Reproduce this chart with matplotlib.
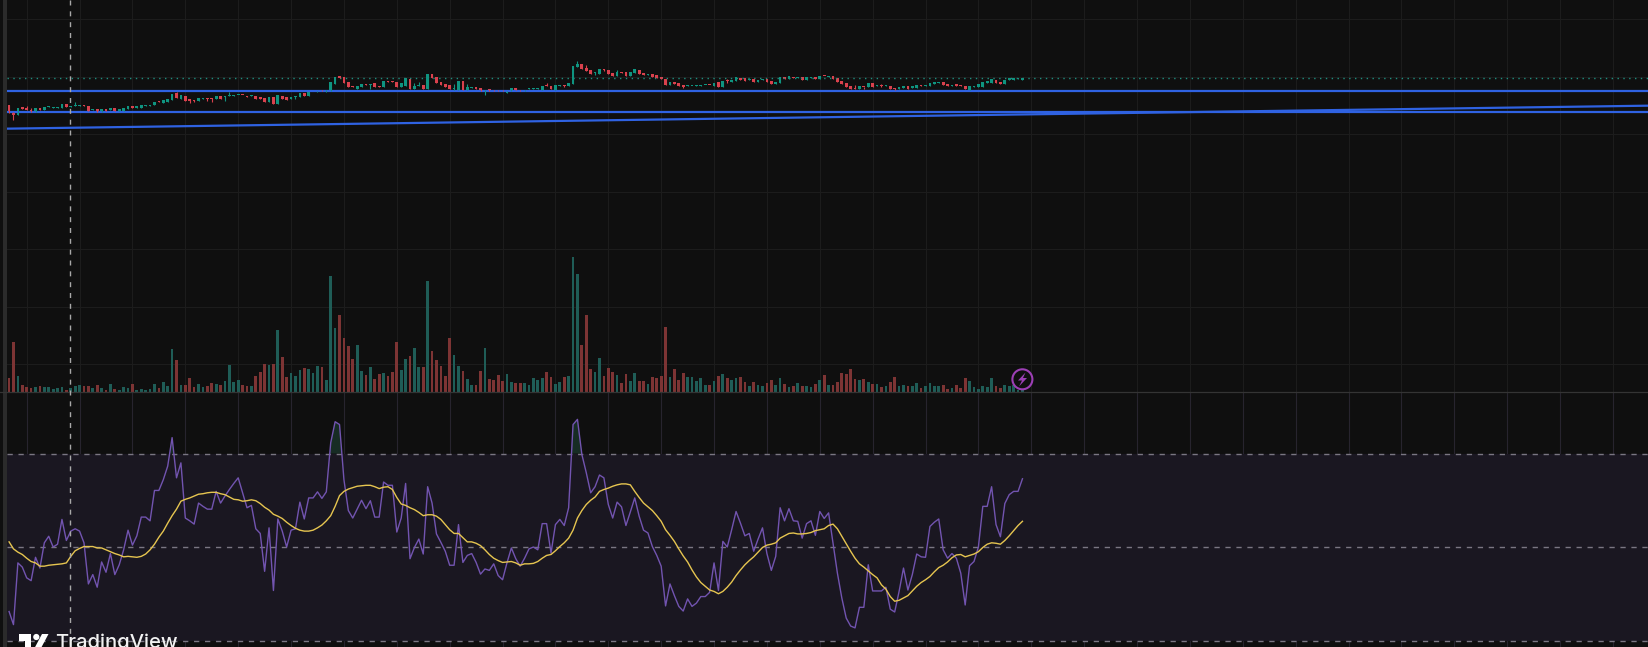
#candles, volume and rsi panes
import numpy as np
import matplotlib
matplotlib.use("Agg")
import matplotlib.pyplot as plt
from matplotlib.patches import Circle,Polygon,Rectangle

W,H=1649,647
BG='#0f0f0f'

# 1 per bar, G up R down
dirs=("RRGRRRGRGG"+"GGGRGGGRRG"+"RGRGRGGGRG"+"GGGGRGGGRG"+"RRRGGRRGRG"+"GGGRRGRRRG"+"RGRRGGGRGG"+"GRGGGRRRRG"
      +"GRGRRGRRRG"+"GRGGRGRRRR"+"RGGRGGRRGR"+"RRRGGRRGGG"+"GGRRGGRGGG"+"RRRGGRRRGR"+"RGGRRGRRRR"+"GRRRGGGGGR"
      +"GRGRGGRRGR"+"GGRRGGRGRG"+"RGGRGRGRRR"+"RRRGRGRGRG"+"RRGGRGGRGG"+"GGRRGRRRGG"+"GGGGRRGGGGG")
body_high=[135,114,125,128,125,120,126,127,130,132,128,129,137,137,132,134,134,134,132,122,
           122,124,124,125,125,122,125,133,133,132,136,135,135,145,147,151,153,168,170,165,
           163,153,149,157,155,155,155,161,162,161,163,164,166,165,161,164,163,158,157,158,
           160,165,163,160,160,162,170,172,174,175,177,179,179,203,219,221,218,204,193,191,
           197,199,197,200,192,206,208,208,205,202,217,213,192,195,195,229,228,220,203,199,
           194,186,206,206,189,190,188,185,180,182,181,181,180,178,185,187,179,179,185,185,
           185,192,194,193,195,196,195,201,252,259,258,247,240,234,243,242,241,232,235,234,
           234,234,242,240,232,228,228,225,220,213,204,205,201,195,195,193,194,194,195,195,
           202,203,207,208,210,218,216,216,214,213,210,214,213,208,205,218,219,222,219,219,
           219,218,218,220,222,223,222,222,215,207,201,192,186,193,190,201,201,194,195,194,
           192,185,189,193,192,191,195,195,195,202,203,205,203,199,195,197,195,192,191,193,
           197,204,206,213,210,203,210,215,215,215,216]
body_low=[112,105,105,124,120,114,114,120,120,128,126,126,125,129,128,131,132,131,116,119,
          115,114,118,121,117,116,118,123,126,127,126,132,133,136,143,142,145,150,155,152,
          147,146,147,148,153,152,153,153,154,158,161,162,164,164,160,161,153,154,145,145,
          139,138,152,149,153,160,158,163,163,173,174,176,174,177,198,217,200,190,190,182,
          188,196,195,189,190,190,205,205,189,190,193,183,182,191,183,183,215,202,196,190,
          182,184,180,180,180,187,183,176,177,178,178,177,177,170,177,179,177,178,184,184,
          183,179,191,182,179,193,193,192,198,249,243,237,228,230,229,240,228,222,222,232,
          222,222,232,228,225,225,220,216,213,195,195,198,193,190,191,191,192,193,194,194,
          193,190,190,207,205,208,210,208,209,205,205,209,205,199,199,202,214,213,217,217,
          210,211,216,213,213,221,220,214,205,198,190,183,183,183,188,188,189,191,193,191,
          183,183,184,187,184,185,187,193,193,193,199,202,195,193,193,193,191,183,180,190,
          190,190,202,202,202,199,198,211,211,212,211]
# wicks that stick out of the body
wick_high={4:132,5:125,15:143,38:173,50:174,92:202,93:203,101:198,104:198,122:200,129:267,131:256,138:240,163:214,192:195,198:198}
wick_low={1:90,41:142,42:144,45:147,46:145,49:148,65:154,82:184,101:180,108:166,126:189,133:226,135:237,153:185,163:201,194:184,198:190,201:180}
volume=[42,150,49,22,16,13,16,19,16,16,10,13,16,7,13,19,22,19,19,13,
        22,13,7,24,10,7,16,13,25,7,10,7,10,25,13,31,19,130,97,22,
        22,43,16,25,16,19,28,25,22,34,82,31,37,22,19,19,49,61,85,82,
        85,187,106,46,58,49,67,73,70,58,79,76,37,349,193,232,163,139,100,142,
        64,52,76,40,55,58,49,61,151,67,100,109,133,76,76,334,124,97,79,49,
        163,112,79,64,40,22,22,64,133,40,37,52,34,55,31,28,28,28,22,43,
        37,43,61,46,25,31,46,49,406,355,142,232,70,61,103,49,73,61,52,28,
        55,34,58,34,34,25,46,43,49,196,46,70,37,58,46,46,34,43,22,22,
        34,49,55,43,37,43,46,31,19,31,22,19,28,37,22,43,25,16,19,28,
        19,19,16,25,37,52,22,22,31,58,55,70,40,37,40,31,25,25,16,19,
        31,46,19,22,19,19,28,13,19,28,19,19,22,10,13,22,13,43,34,16,
        10,19,16,43,19,13,22,19,22,7,5]
rsi=[36.2,33.4,46.6,45.7,43.4,42.8,47.8,45.5,50.9,52.3,50,50.6,55.9,51.4,53.4,53.9,53.4,50.9,42.1,44.1,
     41.4,46.8,44.6,48.6,44.1,46.2,49.4,53.6,50.4,52.4,56.4,56.4,55.6,62.1,62.1,64.4,67.3,73.4,64.8,68,
     56.2,55.6,54.9,59.4,58.7,58.1,58.1,61.9,59.4,60.9,62.3,63.6,64.8,61.6,58.4,58.9,53.9,52.9,44.8,54.1,
     40.7,56,53.4,50,53.6,53.9,59.6,56,60.5,60.5,61.8,60.4,61.8,72.3,76.8,76.2,64.4,57.8,56.2,58.1,
     60,58.2,59.9,56.4,56.4,63.9,63.2,63.2,53.2,56.2,63.6,47.5,49.9,51.7,48.5,62.9,59.4,52.8,51,49.1,
     46.1,46.1,54.8,46.7,48.2,48.6,46.7,44.2,45.3,45,46.4,43.9,43,46.6,49.8,47.5,45.9,47.6,49.6,50,
     49.4,55,55,48.7,54.8,55.9,54.6,58.4,76.2,77.3,69.8,65.9,61.6,62.9,65.4,64.8,59.1,56.2,59.6,58.6,
     54.6,57.5,60.5,56.6,53.6,53,50.1,48.2,45.9,37.4,42.1,39.6,37.3,36.3,38.9,37.3,38,39.4,39.4,40.3,
     46.6,40.7,51.2,50,53.7,57.6,55.1,52.4,52.9,49.1,51.7,54.1,48.6,45,48,58.4,55.6,58.2,55.6,55.5,
     51.9,55,55.6,52.5,57.6,56.1,57.3,50.9,44.4,39.1,34.8,33.1,32.7,37.1,37.1,46.2,40.6,40.6,40.6,41.4,
     36.7,36.1,40.5,45.5,40.8,44.1,48.5,47.9,47.8,54.4,55.3,56,49.4,47.6,48.6,47.6,44.4,37.6,46,46.9,
     50,58.7,58.7,62.9,54.8,52.2,59.3,61.2,61.9,61.9,64.6]
rsi_ma=[51.1,49.6,48.9,48.4,47.6,46.9,46.6,45.9,45.9,46.1,46.2,46.3,46.4,46.6,48,49.2,49.7,50.1,50.1,50.1,
        49.8,49.8,49.4,49,48.6,48.3,47.9,48,47.9,47.8,48,48.5,49.4,50.6,52.1,53.4,55.1,56.7,58.1,59.8,
        60.2,60.5,60.9,61.3,61.4,61.6,61.7,61.7,61.4,61.2,60.7,60.2,60.1,59.8,59.9,60.1,59.9,59.3,58.5,57.9,
        57,56.6,56.1,55.3,54.6,54,53.6,53.4,53.4,53.6,54.1,54.7,55.6,56.7,58.7,61,61.9,62.4,62.7,63,
        63.1,63.2,63.2,62.9,62.5,62.8,62.9,62.3,60.6,59.2,58.9,58.4,58,57.4,56.7,56.9,56.9,56.6,55.9,54.8,
        53.7,52.9,52.9,52,51.1,51.1,50.8,50.3,49.4,48.4,47.6,47.1,46.7,46.8,46.9,46.6,46.1,46.4,46.4,46.5,
        46.9,47.6,48.2,48.4,49.2,50.1,50.9,51.9,53.6,56.2,57.8,59.1,60,60.7,61.9,62.3,62.6,63,63.3,63.5,
        63.5,63.3,61.9,60.6,59.4,58.6,57.8,56.7,55.5,53.7,52.5,51.2,49.6,48.1,46.8,45.1,43.6,42.4,41.6,40.8,
        40.5,40,40.5,41.4,42.5,43.9,45.1,46.2,47.1,47.9,48.9,49.9,50.4,50.6,50.9,51.9,52.4,52.9,53,52.8,
        52.8,52.9,53.1,53.5,53.7,53.9,54.6,54.9,53.9,52.3,50.7,49.1,47.6,46.4,45.7,44.9,44.1,43.4,41.9,41,
        39.4,38.4,38.6,39.1,39.6,40.6,41.6,42.4,43,43.7,44.7,45.6,46.1,46.8,47.7,48.3,48.4,47.9,48.2,48.5,
        49,49.9,50.6,50.9,50.8,50.6,51.4,52.4,53.5,54.6,55.5]
# levels on the price pane
last_price=215
support_levels=[177,115]
trend_start,trend_end=64,133
rsi_levels=[70,50,30]
rsi_grid=[60,40]
price_grid=[393,220.5,48,-124.5,-297,-469.5,-642]

n=len(volume)
x=np.arange(n)
up=np.array([d=='G' for d in dirs])
vol=np.array(volume)
bh=np.array(body_high,dtype=float)
bl=np.array(body_low,dtype=float)
hi=bh.copy()
lo=bl.copy()
for k,v in wick_high.items():
    hi[k]=v
for k,v in wick_low.items():
    lo[k]=v
rsi=np.array(rsi)
rsi_ma=np.array(rsi_ma)

# bar index <-> screen pixel
x_lim=((7-9.08)/4.406,(W-9.08)/4.406)
x_grid=np.arange(4,372,12)
GREEN,RED='#0f9480','#d9414d'
VGREEN,VRED='#1f5d57','#7d3434'

fig=plt.figure(figsize=(W/100,H/100),dpi=100,facecolor=BG)
def pane(top,bottom):
    a=fig.add_axes([7/W,1-bottom/H,(W-7)/W,(bottom-top)/H])
    a.set_xlim(*x_lim)
    a.patch.set_alpha(0)
    for s in a.spines.values():
        s.set_visible(False)
    a.tick_params(left=False,bottom=False,labelleft=False,labelbottom=False)
    return a

ax=pane(0,392)
ax.patch.set_alpha(1)
ax.set_facecolor(BG)
ax.set_ylim(-726,450)
ax.set_xticks(x_grid)
ax.set_yticks(price_grid)
ax.grid(True,color='#1c1c1c',lw=0.8)
ax.set_axisbelow(True)

# volume sits at the bottom of the price pane
axv=pane(0,392)
axv.set_ylim(0,1176)
axv.bar(x[up],vol[up],width=0.62,color=VGREEN,lw=0)
axv.bar(x[~up],vol[~up],width=0.62,color=VRED,lw=0)

ax.set_zorder(axv.get_zorder()-1)
axp=pane(0,392)
axp.set_ylim(-726,450)
axp.axhline(last_price,color='#1f8f80',lw=1,ls=(0,(1,3.2)))
for lev in support_levels:
    axp.axhline(lev,color='#2f62e2',lw=1.6)
axp.plot(x_lim,[trend_start,trend_end],color='#2f62e2',lw=1.6)
cols=np.where(up,GREEN,RED)
axp.vlines(x,lo,hi,colors=cols,lw=0.8)
axp.bar(x,np.maximum(bh-bl,3),bottom=bl,width=0.62,color=cols,lw=0)

axr=pane(392,H)
axr.set_ylim(28.61,83.16)
axr.axhspan(30,70,color='#1a1721',lw=0)
axr.set_xticks(x_grid)
axr.set_yticks(rsi_grid)
axr.grid(True,color='#27242e',lw=0.8)
axr.set_axisbelow(True)
for lev in rsi_levels:
    axr.axhline(lev,color='#7a7682',lw=1,ls=(0,(3.8,4.1)))
axr.fill_between(x,70,rsi,where=rsi>70,color='#1f4a3a',alpha=0.5,lw=0,interpolate=True)
axr.plot(x,rsi,color='#7254b0',lw=1)
axr.plot(x,rsi_ma,color='#e6c550',lw=1)

# screen furniture in pixel coords
top=fig.add_axes([0,0,1,1])
top.set_xlim(0,W)
top.set_ylim(H,0)
top.axis('off')
top.add_patch(Rectangle((3,0),4,H,color='#2b2b2b',lw=0))
top.plot([0,W],[392.3,392.3],color='#343434',lw=0.9)
top.plot([70.3,70.3],[0,H],color='#a8a8a8',lw=1,ls=(0,(3.6,4.2)))
top.add_patch(Circle((1022.4,379.3),10,fc=BG,ec='#9c3fb5',lw=1.5))
top.add_patch(Polygon([(1025.5,372.5),(1018,380.5),(1022,380.5),(1019,386.5),(1027,378),(1023,378)],color='#9c3fb5',lw=0))
top.add_patch(Rectangle((19,634),12,6.5,color='white',lw=0))
top.add_patch(Rectangle((25,634),6,16,color='white',lw=0))
top.add_patch(Circle((36.3,637),3.1,color='white',lw=0))
top.add_patch(Polygon([(42,634),(48.5,634),(40,650),(33.5,650)],color='white',lw=0))
top.text(55,648.5,'TradingView',color='#f2f2f2',fontsize=14.5,family='Inter',weight='medium',va='baseline',ha='left')

plt.savefig("out.png",dpi=100,facecolor=BG)
